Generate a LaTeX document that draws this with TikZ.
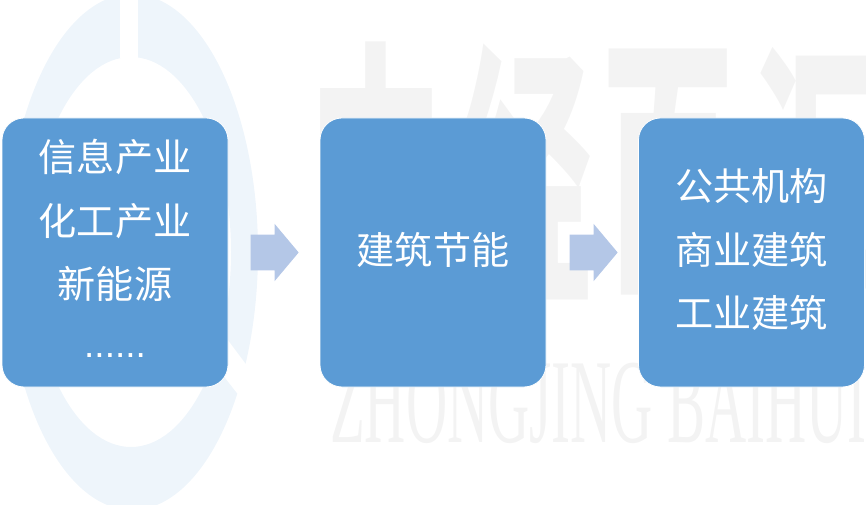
\documentclass[tikz,border=0pt]{standalone}
\usepackage{fontspec}
\usetikzlibrary{shapes.arrows}
\setmainfont{Liberation Sans}
\newfontfamily\cjk{Noto Sans CJK SC}
\newfontfamily\wmserif{Liberation Serif}
\definecolor{boxblue}{HTML}{5B9BD5}
\definecolor{arrowblue}{HTML}{B4C7E7}
\definecolor{ringblue}{HTML}{EEF5FB}
\definecolor{wmgray}{HTML}{F3F3F3}
\tikzset{
  flowbox/.style={rectangle,rounded corners=16.5pt,fill=boxblue,draw=white,line width=0.6pt,
    minimum width=169.5pt,minimum height=201.75pt,inner sep=0pt,text=white,align=center,
    text depth=6.5pt,font=\fontsize{28.6}{47.8}\selectfont\cjk},
  blockarrow/.style={single arrow,fill=arrowblue,draw=none,inner sep=0pt,
    minimum width=42.75pt,minimum height=36pt,single arrow head extend=8.25pt,
    single arrow tip angle=100,anchor=tip},
  wmcn/.style={text=wmgray,inner sep=0pt,font=\fontsize{100}{100}\selectfont\cjk\bfseries,yscale=2.05,xscale=1},
  wmen/.style={text=wmgray,inner sep=0pt,anchor=west,font=\fontsize{90}{90}\selectfont\wmserif,xscale=0.475},
}
\begin{document}
\begin{tikzpicture}[x=0.75pt,y=-0.75pt]
\useasboundingbox (0,0) rectangle (866,505);
\clip (0,0) rectangle (866,505);
% logo ring
\fill[ringblue,even odd rule] (132,252) ellipse [x radius=126,y radius=258]
      (131,252) ellipse [x radius=100,y radius=195];
\fill[white] (120,-5) rectangle (138,58);
\fill[white] (215,323) -- (275,403) -- (262,425) -- (215,365) -- cycle;
% watermark
\node[wmcn] (wm1) at (376,172) {中};
\node[wmcn] (wm2) at (525,172) {经};
\node[wmcn] (wm3) at (668,172) {百};
\node[wmcn] (wm4) at (818,172) {汇};
\node[wmen] (wm5) at (330,403) {ZHONGJING BAIHUI};
% boxes
\node[flowbox,text depth=2.5pt] (a) at (115,252.5) {信息产业\\化工产业\\新能源\\\raisebox{4pt}{\rmfamily\fontsize{27.7}{47.8}\selectfont ......}};
\node[flowbox] (b) at (433,252.5) {建筑节能};
\node[flowbox] (c) at (751.5,252.5) {公共机构\\商业建筑\\工业建筑};
% block arrows
\node[blockarrow] (ab) at (299,252.5) {\rule{0pt}{26.25pt}};
\node[blockarrow] (bc) at (618,252.5) {\rule{0pt}{26.25pt}};
\end{tikzpicture}
\end{document}
